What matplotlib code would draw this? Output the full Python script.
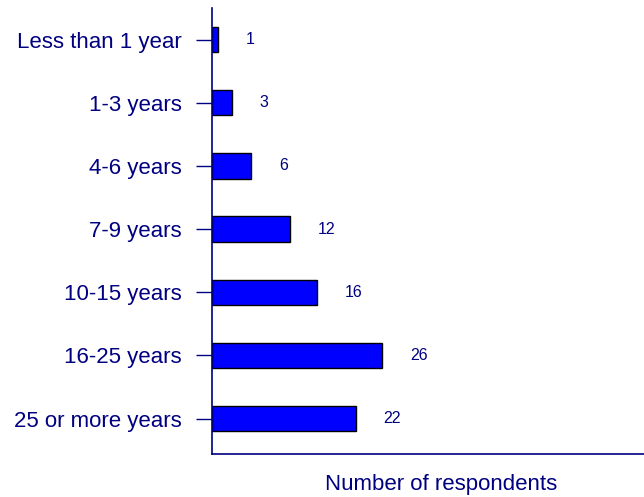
import numpy as np
import matplotlib
matplotlib.use("Agg")
import matplotlib.pyplot as plt

# Data
categories = ["Less than 1 year", "1-3 years", "4-6 years", "7-9 years",
              "10-15 years", "16-25 years", "25 or more years"]
respondents = [1, 3, 6, 12, 16, 26, 22]

plt.rcParams['font.family'] = ['Liberation Sans', 'DejaVu Sans']
navy = "#000080"

fig = plt.figure(figsize=(6.44, 4.97), dpi=100)
ax = fig.add_axes([0.329, 0.0865, 0.671, 0.8975])

y = np.arange(len(categories))
ax.barh(y, respondents, height=0.4, color="#0000FF", edgecolor="black", linewidth=1)

# Value labels to the right of each bar
for yi, v in zip(y, respondents):
    ax.annotate(str(v), xy=(v, yi), xytext=(20, 0), textcoords="offset points",
                ha="left", va="center", fontsize=11.5, color=navy)

ax.set_xlim(0, 66)
ax.set_ylim(6.56, -0.5)
ax.set_yticks(y)
ax.set_yticklabels(categories, fontsize=16, color=navy)
ax.tick_params(axis="y", length=11.5, width=1, color=navy, pad=10)
ax.set_xticks([])

for s in ["top", "right"]:
    ax.spines[s].set_visible(False)
for s in ["left", "bottom"]:
    ax.spines[s].set_color(navy)
    ax.spines[s].set_linewidth(1.2)

fig.text(0.685, 0.026, "Number of respondents", ha="center", va="center",
         fontsize=16, color=navy)

fig.savefig("out.png", dpi=100)
